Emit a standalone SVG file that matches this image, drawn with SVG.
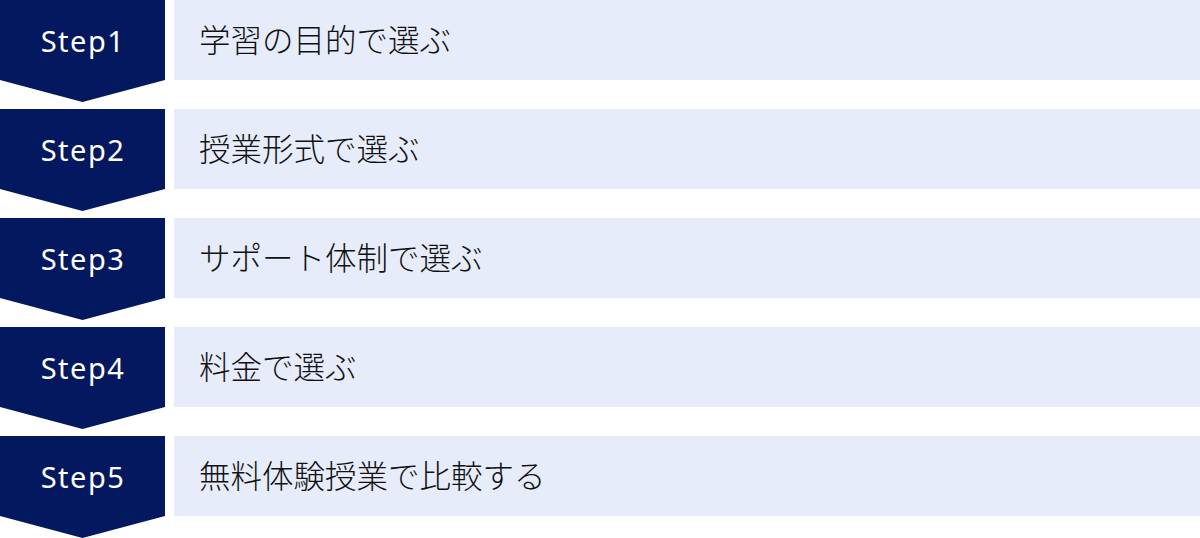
<svg xmlns="http://www.w3.org/2000/svg" width="1200" height="538" viewBox="0 0 1200 538">
<defs>
<style>
.chev{fill:#04185f}
.bar{fill:#e6ecf9}
.st{font-family:"Noto Sans","Noto Sans CJK JP",sans-serif;font-size:29px;fill:#ffffff;text-anchor:middle;letter-spacing:1.5px}
.lb{font-family:"Noto Sans CJK JP","Noto Sans",sans-serif;font-size:31.5px;font-weight:300;fill:#111111}
</style>
<polygon id="chevShape" class="chev" points="0,0 165,0 165,80 82.5,102 0,80"/>
</defs>
<g id="step1">
<use href="#chevShape" y="0"/>
<rect class="bar" x="174" y="0" width="1026" height="80"/>
<text class="st" x="83" y="52">Step1</text>
<text class="lb" x="199" y="51.5">学習の目的で選ぶ</text>
</g>
<g id="step2">
<use href="#chevShape" y="109"/>
<rect class="bar" x="174" y="109" width="1026" height="80"/>
<text class="st" x="83" y="161">Step2</text>
<text class="lb" x="199" y="160.5">授業形式で選ぶ</text>
</g>
<g id="step3">
<use href="#chevShape" y="218"/>
<rect class="bar" x="174" y="218" width="1026" height="80"/>
<text class="st" x="83" y="270">Step3</text>
<text class="lb" x="199" y="269.5">サポート体制で選ぶ</text>
</g>
<g id="step4">
<use href="#chevShape" y="327"/>
<rect class="bar" x="174" y="327" width="1026" height="80"/>
<text class="st" x="83" y="379">Step4</text>
<text class="lb" x="199" y="378.5">料金で選ぶ</text>
</g>
<g id="step5">
<use href="#chevShape" y="436"/>
<rect class="bar" x="174" y="436" width="1026" height="80"/>
<text class="st" x="83" y="488">Step5</text>
<text class="lb" x="199" y="487.5">無料体験授業で比較する</text>
</g>
<g id="connectors"></g>
</svg>
